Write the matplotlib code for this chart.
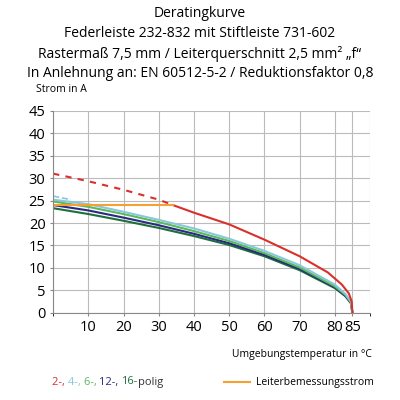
import matplotlib.pyplot as plt

plt.rcParams['font.family'] = ['Open Sans', 'DejaVu Sans']

# red 2-polig
red_dash_x = [0, 10, 20, 30, 34]
red_dash_y = [31, 29.3, 27.4, 25.2, 24]
red_x = [34, 40, 50, 60, 70, 78, 82, 84, 84.8, 85]
red_y = [24, 22.3, 19.7, 16.3, 12.6, 9.0, 6.3, 4.3, 2.5, 0]
# Leiterbemessungsstrom
orange_x = [0, 34]
orange_y = [24, 24]

temps = [0, 10, 20, 30, 40, 50, 60, 70, 80, 83, 84.6, 85]
lightblue_y = [25.2, 24.2, 22.5, 20.7, 18.8, 16.5, 13.8, 10.6, 6.3, 4.2, 2.5, 0]
green_y = [24.8, 23.6, 22.0, 20.2, 18.2, 16.0, 13.3, 10.1, 5.9, 4.0, 2.3, 0]
navy_y = [24.0, 22.8, 21.2, 19.5, 17.6, 15.5, 12.9, 9.8, 5.7, 3.8, 2.2, 0]
dgreen_y = [23.3, 22.0, 20.5, 18.9, 17.1, 15.1, 12.6, 9.5, 5.5, 3.7, 2.1, 0]

fig = plt.figure(figsize=(4, 4), dpi=100)
ax = fig.add_axes([0.133, 0.218, 0.792, 0.505])

ax.plot([0, 5], [26, 25.2], color='#88c8d8', lw=1.2, ls='--')
ax.plot(temps, dgreen_y, color='#1e6e3c', lw=1.5)
ax.plot(temps, navy_y, color='#2a2a80', lw=1.5)
ax.plot(temps, green_y, color='#5cb85c', lw=1.5)
ax.plot(temps, lightblue_y, color='#88c8d8', lw=1.5)
ax.plot(red_dash_x, red_dash_y, color='#d9302c', lw=1.5, ls=(0, (3, 3)))
ax.plot(red_x, red_y, color='#d9302c', lw=1.5)
ax.plot(orange_x, orange_y, color='#f5a030', lw=1.5)

ax.set_xlim(0, 90)
ax.set_ylim(0, 45)
ax.set_yticks(range(0, 46, 5))
ax.grid(color='#bbbbbb', lw=0.8)
ax.set_xticks([10, 20, 30, 40, 50, 60, 70, 80, 85])
ax.set_xticks([0, 90], minor=True)
ax.xaxis.grid(True, which='both', color='#bbbbbb', lw=0.8)
ax.tick_params(labelsize=10.5, length=2, color='#888888')
for s in ax.spines.values():
    s.set_visible(False)
ax.spines['left'].set_visible(True)
ax.spines['bottom'].set_visible(True)
ax.spines['left'].set_color('#888888')
ax.spines['bottom'].set_color('#888888')

fig.text(0.5, 0.985, 'Deratingkurve', ha='center', va='top', fontsize=10)
fig.text(0.5, 0.935, 'Federleiste 232-832 mit Stiftleiste 731-602', ha='center', va='top', fontsize=10)
fig.text(0.5, 0.885, 'Rastermaß 7,5 mm / Leiterquerschnitt 2,5 mm² „f“', ha='center', va='top', fontsize=10)
fig.text(0.5, 0.835, 'In Anlehnung an: EN 60512-5-2 / Reduktionsfaktor 0,8', ha='center', va='top', fontsize=10)
fig.text(0.09, 0.775, 'Strom in A', fontsize=7.5, va='center')
fig.text(0.93, 0.115, 'Umgebungstemperatur in °C', fontsize=7.5, ha='right', va='center')

x0 = 0.13
for txt, c in [('2-, ', '#d9302c'), ('4-, ', '#88c8d8'), ('6-, ', '#5cb85c'),
               ('12-, ', '#2a2a80'), ('16-', '#1e6e3c'), ('polig', '#333333')]:
    t = fig.text(x0, 0.045, txt, color=c, fontsize=8, va='center')
    fig.canvas.draw()
    bb = t.get_window_extent()
    x0 += bb.width / fig.bbox.width
fig.add_artist(plt.Line2D([0.56, 0.625], [0.045, 0.045], color='#f5a030', lw=1.5))
fig.text(0.64, 0.045, 'Leiterbemessungsstrom', fontsize=7.5, va='center')

fig.savefig('out.png', dpi=100)
